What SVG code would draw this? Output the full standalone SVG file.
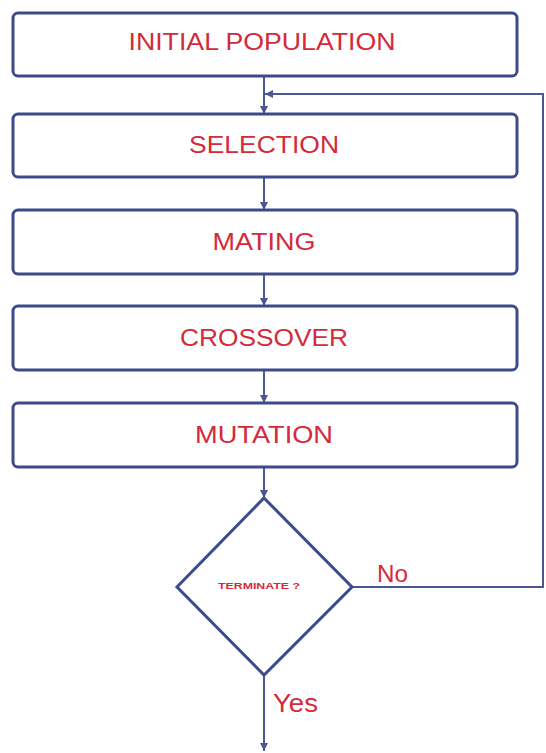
<svg xmlns="http://www.w3.org/2000/svg" width="546" height="753" viewBox="0 0 546 753">
  <defs>
    <style>
      .box { fill: #ffffff; stroke: #3d4a8c; stroke-width: 3; }
      .lbl { fill: #d42a3a; font-family: "Liberation Sans", Arial, sans-serif; font-size: 23px; text-anchor: middle; }
      .small { fill: #d42a3a; font-family: "Liberation Sans", Arial, sans-serif; font-size: 9px; font-weight: bold; text-anchor: middle; }
      .edge { fill: none; stroke: #4a5794; stroke-width: 2; }
      .side { fill: #d42a3a; font-family: "Liberation Sans", Arial, sans-serif; }
    </style>
    <marker id="arr" viewBox="0 0 10 10" refX="10" refY="5" markerWidth="4" markerHeight="4" orient="auto" markerUnits="strokeWidth">
      <path d="M0,0 L10,5 L0,10 z" fill="#4a5794"/>
    </marker>
  </defs>
  <rect width="546" height="753" fill="#ffffff"/>

  <g id="connectors">
    <line class="edge" x1="264" y1="76" x2="264" y2="114" marker-end="url(#arr)"/>
    <line class="edge" x1="264" y1="178" x2="264" y2="210" marker-end="url(#arr)"/>
    <line class="edge" x1="264" y1="274" x2="264" y2="306" marker-end="url(#arr)"/>
    <line class="edge" x1="264" y1="370" x2="264" y2="403" marker-end="url(#arr)"/>
    <line class="edge" x1="264" y1="467" x2="264" y2="498" marker-end="url(#arr)"/>
    <line class="edge" x1="264" y1="675" x2="264" y2="751" marker-end="url(#arr)"/>
    <polyline class="edge" points="352,587 543,587 543,94 265,94" marker-end="url(#arr)"/>
  </g>

  <g id="initial-population">
    <rect class="box" x="13" y="13" width="504" height="63" rx="5"/>
    <text class="lbl" x="262" y="50" textLength="267" lengthAdjust="spacingAndGlyphs">INITIAL POPULATION</text>
  </g>
  <g id="selection">
    <rect class="box" x="13" y="114" width="504" height="63" rx="5"/>
    <text class="lbl" x="264" y="153" textLength="150" lengthAdjust="spacingAndGlyphs">SELECTION</text>
  </g>
  <g id="mating">
    <rect class="box" x="13" y="210" width="504" height="64" rx="5"/>
    <text class="lbl" x="264" y="250" textLength="103" lengthAdjust="spacingAndGlyphs">MATING</text>
  </g>
  <g id="crossover">
    <rect class="box" x="13" y="306" width="504" height="64" rx="5"/>
    <text class="lbl" x="264" y="346" textLength="168" lengthAdjust="spacingAndGlyphs">CROSSOVER</text>
  </g>
  <g id="mutation">
    <rect class="box" x="13" y="403" width="504" height="64" rx="5"/>
    <text class="lbl" x="264" y="443" textLength="138" lengthAdjust="spacingAndGlyphs">MUTATION</text>
  </g>
  <g id="terminate">
    <polygon class="box" points="264,498 352,587 264,675 177,587"/>
    <text class="small" x="259" y="589" textLength="82" lengthAdjust="spacingAndGlyphs">TERMINATE ?</text>
  </g>
  <g id="labels">
    <text class="side" x="377" y="582" font-size="23" textLength="31" lengthAdjust="spacingAndGlyphs">No</text>
    <text class="side" x="273" y="712" font-size="25" textLength="45" lengthAdjust="spacingAndGlyphs">Yes</text>
  </g>
</svg>
